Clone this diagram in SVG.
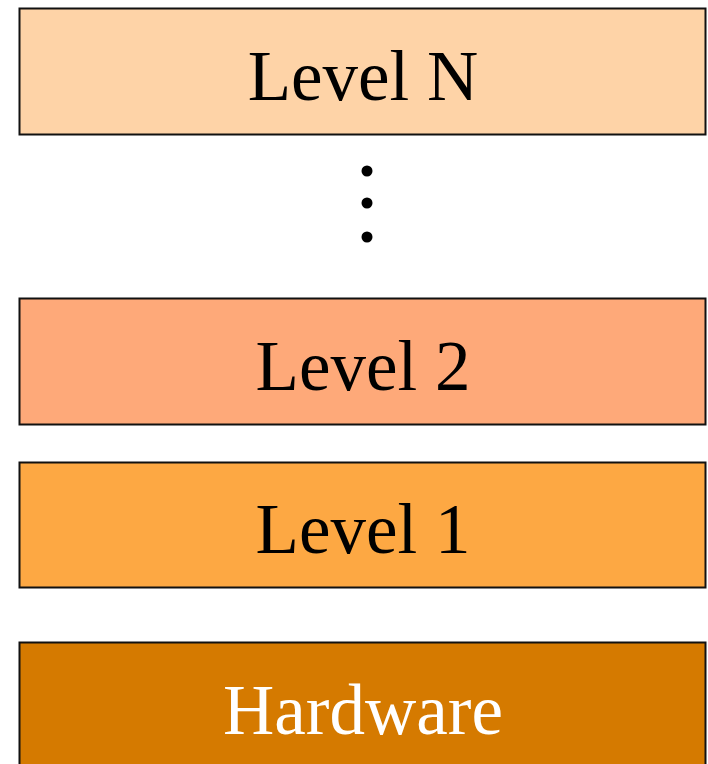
<svg xmlns="http://www.w3.org/2000/svg" width="708" height="764" viewBox="0 0 708 764">
<style>
.box{stroke:#111;stroke-width:2}
.t{font-family:"Liberation Serif","Times New Roman",serif;font-size:71px;text-anchor:middle}
</style>
<rect width="708" height="764" fill="#fff"/>
<g id="levelN"><rect class="box" x="19.5" y="8.5" width="686" height="126" fill="#FED3A7"/><text class="t" x="363" y="100" fill="#000">Level N</text></g>
<g id="dots"><circle cx="367" cy="171" r="5.5" fill="#000"/><circle cx="367" cy="203" r="5.5" fill="#000"/><circle cx="367" cy="237" r="5.5" fill="#000"/></g>
<g id="level2"><rect class="box" x="19.5" y="298.5" width="686" height="126" fill="#FEA979"/><text class="t" x="363" y="390" fill="#000">Level 2</text></g>
<g id="level1"><rect class="box" x="19.5" y="462.5" width="686" height="125" fill="#FDA843"/><text class="t" x="363" y="553" fill="#000">Level 1</text></g>
<g id="hardware"><rect class="box" x="19.5" y="642.5" width="686" height="130" fill="#D57A00"/><text class="t" x="363" y="734" fill="#fff">Hardware</text></g>
<g id="connectors"></g>
</svg>
